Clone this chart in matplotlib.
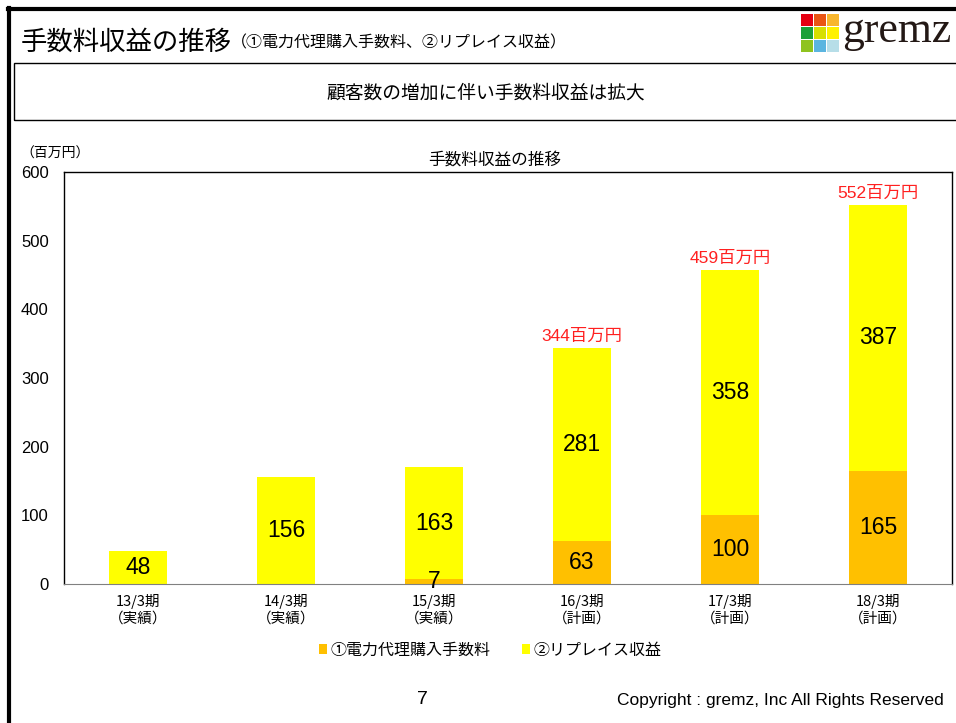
import matplotlib
matplotlib.use("Agg")
import matplotlib.pyplot as plt
from matplotlib.patches import Rectangle
from matplotlib.lines import Line2D

plt.rcParams['font.family'] = ['Noto Sans CJK JP', 'DejaVu Sans']

categories = ["13/3期\n（実績）", "14/3期\n（実績）", "15/3期\n（実績）",
              "16/3期\n（計画）", "17/3期\n（計画）", "18/3期\n（計画）"]
fee_values = [0, 0, 7, 63, 100, 165]          # ①電力代理購入手数料
replace_values = [48, 156, 163, 281, 358, 387]  # ②リプレイス収益
total_labels = [None, None, None, "344百万円", "459百万円", "552百万円"]
series_names = ["①電力代理購入手数料", "②リプレイス収益"]
yticks = [0, 100, 200, 300, 400, 500, 600]

W, H = 956, 723
fig = plt.figure(figsize=(W / 100, H / 100), dpi=100)

def fx(x):
    return x / W

def fy(y):
    return 1 - y / H

numfont = ["Liberation Sans", "Noto Sans CJK JP", "DejaVu Sans"]

# slide frame
fig.add_artist(Line2D([fx(8), fx(956)], [fy(9), fy(9)], color="black", lw=3.0))
fig.add_artist(Line2D([fx(9), fx(9)], [fy(8), fy(723)], color="black", lw=3.0))
# message box
fig.add_artist(Rectangle((fx(14), fy(120)), fx(956) - fx(14) + 0.01, (120 - 63) / H,
                         transform=fig.transFigure, fill=False, ec="black", lw=1.0))

fig.text(fx(21), fy(42), "手数料収益の推移", fontsize=19, va="center", ha="left")
fig.text(fx(231), fy(43), "（①電力代理購入手数料、②リプレイス収益）", fontsize=11.5,
         va="center", ha="left")
fig.text(fx(486), fy(93), "顧客数の増加に伴い手数料収益は拡大", fontsize=13.5,
         va="center", ha="center")

# logo
logo_colors = [["#E60012", "#EA5514", "#F8B62D"],
               ["#1BA038", "#D7DF01", "#FFF100"],
               ["#8FC31F", "#5BB5E0", "#B7DEE8"]]
x0, y0, cs, gap = 801, 14, 11.5, 1.5
for r in range(3):
    for c in range(3):
        fig.add_artist(Rectangle((fx(x0 + c * (cs + gap)), fy(y0 + (r + 1) * cs + r * gap)),
                                 cs / W, cs / H, transform=fig.transFigure,
                                 color=logo_colors[r][c], lw=0))
fig.text(fx(842), fy(31), "gremz", fontsize=31.5, family=["Liberation Serif", "DejaVu Serif"],
         color="#231815", va="center", ha="left")

# chart axes
ax = fig.add_axes([fx(64), fy(584), (952 - 64) / W, (584 - 172) / H])
x = list(range(len(categories)))
bw = 0.39
b1 = ax.bar(x, fee_values, width=bw, color="#FFC000", label=series_names[0], zorder=2)
b2 = ax.bar(x, replace_values, width=bw, bottom=fee_values, color="#FFFF00",
            label=series_names[1], zorder=2)

ax.set_xlim(-0.5, len(categories) - 0.5)
ax.set_ylim(0, 600)
ax.set_yticks(yticks)
ax.set_yticklabels([str(v) for v in yticks], fontsize=12, family=numfont)
ax.set_xticks(x)
ax.set_xticklabels(categories, fontsize=10.5, linespacing=1.25)
ax.tick_params(axis="both", length=0)
ax.tick_params(axis="x", pad=7)
ax.tick_params(axis="y", pad=11)
for s in ["top", "right", "left"]:
    ax.spines[s].set_color("black")
    ax.spines[s].set_linewidth(1.0)
ax.spines["bottom"].set_color("#808080")

for i in x:
    f = fee_values[i]
    r = replace_values[i]
    if f > 0:
        ax.text(i, f / 2, str(f), ha="center", va="center", fontsize=16.5, family=numfont, zorder=3)
    ax.text(i, f + r / 2, str(r), ha="center", va="center", fontsize=16.5, family=numfont, zorder=3)
    if total_labels[i]:
        ax.text(i, f + r + 6, total_labels[i], ha="center", va="bottom", fontsize=12.5,
                color="#FF2020", family=numfont, zorder=3)

fig.text(fx(495), fy(160), "手数料収益の推移", fontsize=12, ha="center", va="center")
fig.text(fx(20), fy(154), "（百万円）", fontsize=10, ha="left", va="center")

leg = fig.legend(handles=[b1, b2], labels=series_names, loc="center",
                 bbox_to_anchor=(fx(490), fy(650)), ncol=2, frameon=False,
                 fontsize=11.5, handlelength=0.5, handleheight=0.6, handletextpad=0.2,
                 columnspacing=2.0)

fig.text(fx(422), fy(700), "7", fontsize=14, ha="center", va="center", family=numfont)
fig.text(fx(944), fy(700), "Copyright : gremz, Inc All Rights Reserved", fontsize=12.5,
         ha="right", va="center", family=numfont)

fig.savefig("out.png", dpi=100)
